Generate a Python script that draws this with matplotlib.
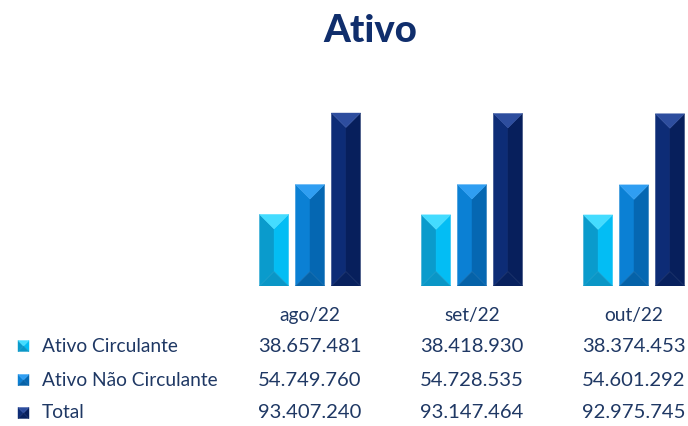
import matplotlib
matplotlib.use("Agg")
import matplotlib.pyplot as plt
from matplotlib.patches import Polygon
from matplotlib.transforms import blended_transform_factory
import numpy as np

# ---- data ----
categories = ["ago/22", "set/22", "out/22"]
series_names = ["Ativo Circulante", "Ativo Não Circulante", "Total"]
ativo_circulante = [38657481, 38418930, 38374453]
ativo_nao_circulante = [54749760, 54728535, 54601292]
total = [93407240, 93147464, 92975745]
series_values = [ativo_circulante, ativo_nao_circulante, total]
title_text = "Ativo"

# ---- styles: (left face, right face, top face, bottom face) ----
palettes = [
    ("#0a9bcc", "#03bdf4", "#44dcff", "#0a96c6"),
    ("#0b80d4", "#0567b2", "#2f9ef2", "#0562a8"),
    ("#0d2c76", "#071f5c", "#2d4d9e", "#08215e"),
]
text_color = "#1f3864"
title_color = "#102e6c"
FONT = ["Lato", "DejaVu Sans"]

W, H = 688, 426
fig = plt.figure(figsize=(W / 100, H / 100), dpi=100)
fig.patch.set_facecolor("white")

ax_left, ax_right = 229, 715
ax_bottom_px, ax_top_px = 286, 286 - 185.2
ax = fig.add_axes([ax_left / W, (H - ax_bottom_px) / H,
                   (ax_right - ax_left) / W, (ax_bottom_px - ax_top_px) / H])
ax.set_xlim(-0.5, len(categories) - 0.5)
ax.set_ylim(0, 100e6)
ax.axis("off")

bar_w = 0.179
pitch = 0.222
fig.canvas.draw()


def bevel_polys(x0, x1, y0, y1, trans_to_disp, inv):
    """Return 4 polygons (left, right, top, bottom) in the coords of inv."""
    (dx0, dy0) = trans_to_disp.transform((x0, y0))
    (dx1, dy1) = trans_to_disp.transform((x1, y1))
    xc = (dx0 + dx1) / 2
    h = (dx1 - dx0) / 2
    h = min(h, (dy1 - dy0) / 2)
    top = [(dx0, dy1), (dx1, dy1), (xc, dy1 - h)]
    bot = [(dx0, dy0), (dx1, dy0), (xc, dy0 + h)]
    left = [(dx0, dy0), (xc, dy0 + h), (xc, dy1 - h), (dx0, dy1)]
    right = [(dx1, dy0), (xc, dy0 + h), (xc, dy1 - h), (dx1, dy1)]
    return [inv.transform(np.array(p)) for p in (left, right, top, bot)]


def draw_bevel(container, x0, x1, y0, y1, pal, trans, inv, transform):
    faces = bevel_polys(x0, x1, y0, y1, trans, inv)
    for poly, c in zip(faces, pal):
        container.add_patch(Polygon(poly, closed=True, facecolor=c,
                                    edgecolor=c, linewidth=0.3,
                                    transform=transform, zorder=3))


data_inv = ax.transData.inverted()
for si, vals in enumerate(series_values):
    for ci, v in enumerate(vals):
        xc = ci + (si - 1) * pitch
        draw_bevel(ax, xc - bar_w / 2, xc + bar_w / 2, 0, v, palettes[si],
                   ax.transData, data_inv, ax.transData)

# ---- title ----
fig.text(370 / W, 1 - 31 / H, title_text, ha="center", va="center",
         fontsize=27.5, fontweight="black", color=title_color, family=FONT)

# ---- data table ----
btrans = blended_transform_factory(ax.transData, fig.transFigure)
header_y = 1 - 316 / H
row_y = [1 - 346 / H, 1 - 380 / H, 1 - 413 / H]
fs_lbl = 13.8
fs_num = 14.6
for ci, cat in enumerate(categories):
    ax.text(ci, header_y, cat, transform=btrans, ha="center", va="center",
            fontsize=fs_lbl, color=text_color, family=FONT, clip_on=False)
for si, vals in enumerate(series_values):
    for ci, v in enumerate(vals):
        s = f"{v:,}".replace(",", ".")
        ax.text(ci, row_y[si], s, transform=btrans, ha="center", va="center",
                fontsize=fs_num, color=text_color, family=FONT, clip_on=False)

# ---- legend keys ----
fig_inv = fig.transFigure.inverted()
disp = fig.transFigure
for si, name in enumerate(series_names):
    yc = row_y[si]
    sq = 11 / H
    x0, x1 = 18 / W, 29 / W
    faces = bevel_polys(x0, x1, yc - sq / 2, yc + sq / 2, disp, fig_inv)
    for poly, c in zip(faces, palettes[si]):
        fig.add_artist(Polygon(poly, closed=True, facecolor=c, edgecolor=c,
                               linewidth=0.3, transform=fig.transFigure))
    fig.text(42 / W, yc, name, ha="left", va="center", fontsize=fs_lbl,
             color=text_color, family=FONT)

fig.savefig("out.png", dpi=100, facecolor="white")
